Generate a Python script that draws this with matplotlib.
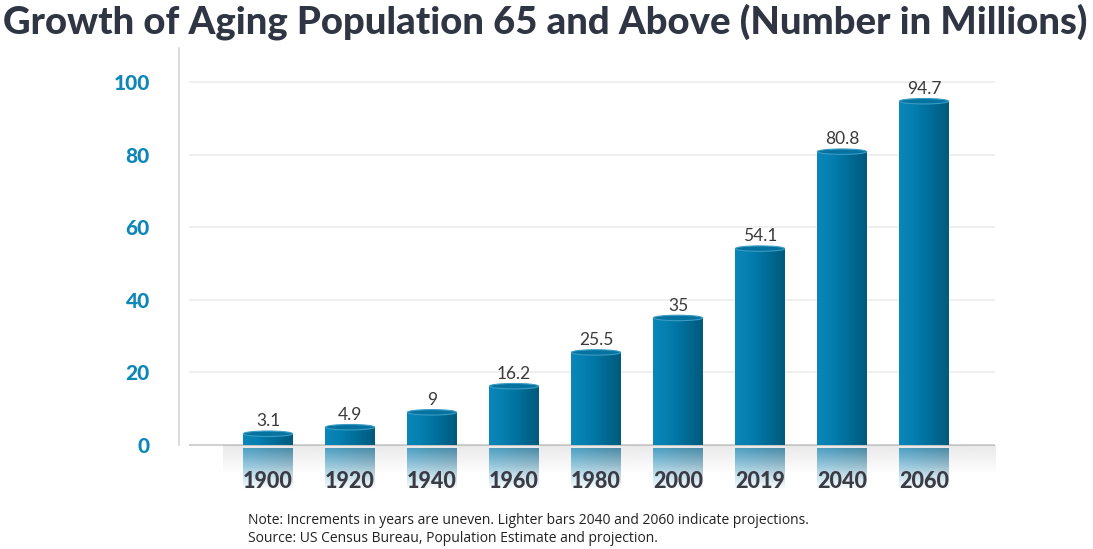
import numpy as np
import matplotlib
matplotlib.use("Agg")
import matplotlib.pyplot as plt
from matplotlib.patches import Ellipse
from matplotlib.colors import LinearSegmentedColormap

# chart data
years = ["1900", "1920", "1940", "1960", "1980", "2000", "2019", "2040", "2060"]
population = [3.1, 4.9, 9, 16.2, 25.5, 35, 54.1, 80.8, 94.7]
value_labels = ["3.1", "4.9", "9", "16.2", "25.5", "35", "54.1", "80.8", "94.7"]
y_ticks = [0, 20, 40, 60, 80, 100]

title = "Growth of Aging Population 65 and Above (Number in Millions)"
note_lines = [
    "Note: Increments in years are uneven. Lighter bars 2040 and 2060 indicate projections.",
    "Source: US Census Bureau, Population Estimate and projection.",
]

plt.rcParams["font.family"] = ["Lato", "DejaVu Sans"]

W, H = 1093, 549
fig = plt.figure(figsize=(W / 100, H / 100), dpi=100)

# axes placed in pixel terms: 0 at y=445px, 3.63 px per unit
px_per_unit = 3.63
ymin, ymax = -14, 109.4
bottom_px = 445 + (-ymin) * px_per_unit
top_px = 445 - ymax * px_per_unit
ax = fig.add_axes([179 / W, 1 - bottom_px / H, (995 - 179) / W, (bottom_px - top_px) / H])

x = np.arange(len(years))
bar_w = 0.6
xmin, xmax = -1.085, 8.866

# grid + zero line
for t in y_ticks[1:]:
    ax.hlines(t, -0.963, xmax, color="#ececec", lw=1.2, zorder=0)
ax.hlines(0, -0.963, xmax, color="#c8c8c8", lw=1.2, zorder=1)

# shadow band under the bars
shadow = np.zeros((50, 2, 4))
shadow[..., :3] = 0.6
shadow[..., 3] = np.linspace(0.22, 0.0, 50)[:, None]
ax.imshow(shadow, extent=[-0.55, xmax, -8, -0.2], aspect="auto", zorder=1,
          interpolation="bilinear")

bar_cmap = LinearSegmentedColormap.from_list(
    "cyl", ["#0a86b8", "#0580b1", "#0074a3", "#00678f", "#005b7c"])
grad = np.linspace(0, 1, 64)[None, :]

bars = ax.bar(x, population, width=bar_w, color="#0077a6", zorder=2)
for xi, v, b in zip(x, population, bars):
    im = ax.imshow(grad, extent=[xi - bar_w / 2, xi + bar_w / 2, 0, v], aspect="auto",
                   cmap=bar_cmap, zorder=3, interpolation="bilinear")
    im.set_clip_path(b)
    ax.add_patch(Ellipse((xi, v), bar_w, 1.5, facecolor="#06729f",
                         edgecolor="#3a9cc4", lw=0.8, zorder=4))

    # reflection
    refl = np.zeros((50, 64, 4))
    base = np.array([[0.05, 0.52, 0.72]]) * np.ones((64, 1))
    base = base * (1 - 0.25 * np.linspace(0, 1, 64))[:, None]
    refl[..., :3] = base[None, :, :]
    refl[..., 3] = np.linspace(0.7, 0.0, 50)[:, None]
    ax.imshow(refl, extent=[xi - bar_w / 2, xi + bar_w / 2, -12.5, -1.0], aspect="auto",
              zorder=2, interpolation="bilinear")

for xi, v, lab in zip(x, population, value_labels):
    ax.text(xi, v + 1.2, lab, ha="center", va="bottom", fontsize=12.5,
            color="#3a3a3a", zorder=5)

for xi, yr in zip(x, years):
    ax.text(xi, -10.0, yr, ha="center", va="center", fontsize=15.5, fontweight="black",
            color="#3a3b45", zorder=5)

ax.set_xlim(xmin, xmax)
ax.set_ylim(ymin, ymax)
ax.set_xticks([])
ax.set_yticks(y_ticks)
ax.set_yticklabels([str(t) for t in y_ticks], fontsize=15, fontweight="black",
                   color="#0e86b8")
ax.tick_params(axis="y", length=0, pad=21)
for s in ["top", "right", "bottom"]:
    ax.spines[s].set_visible(False)
ax.spines["left"].set_color("#d4d4d4")
ax.spines["left"].set_linewidth(1.2)
ax.spines["left"].set_bounds(0, ymax)
ax.patch.set_alpha(0)

fig.text(545 / W, 1 - 22 / H, title, ha="center", va="center", fontsize=27.5,
         fontweight="black", color="#2f3542")
fig.text(248 / W, 1 - 521 / H, note_lines[0], ha="left", va="center", fontsize=10,
         color="#222222", family=["Open Sans", "DejaVu Sans"])
fig.text(248 / W, 1 - 539 / H, note_lines[1], ha="left", va="center", fontsize=10,
         color="#222222", family=["Open Sans", "DejaVu Sans"])

fig.savefig("out.png", dpi=100)
